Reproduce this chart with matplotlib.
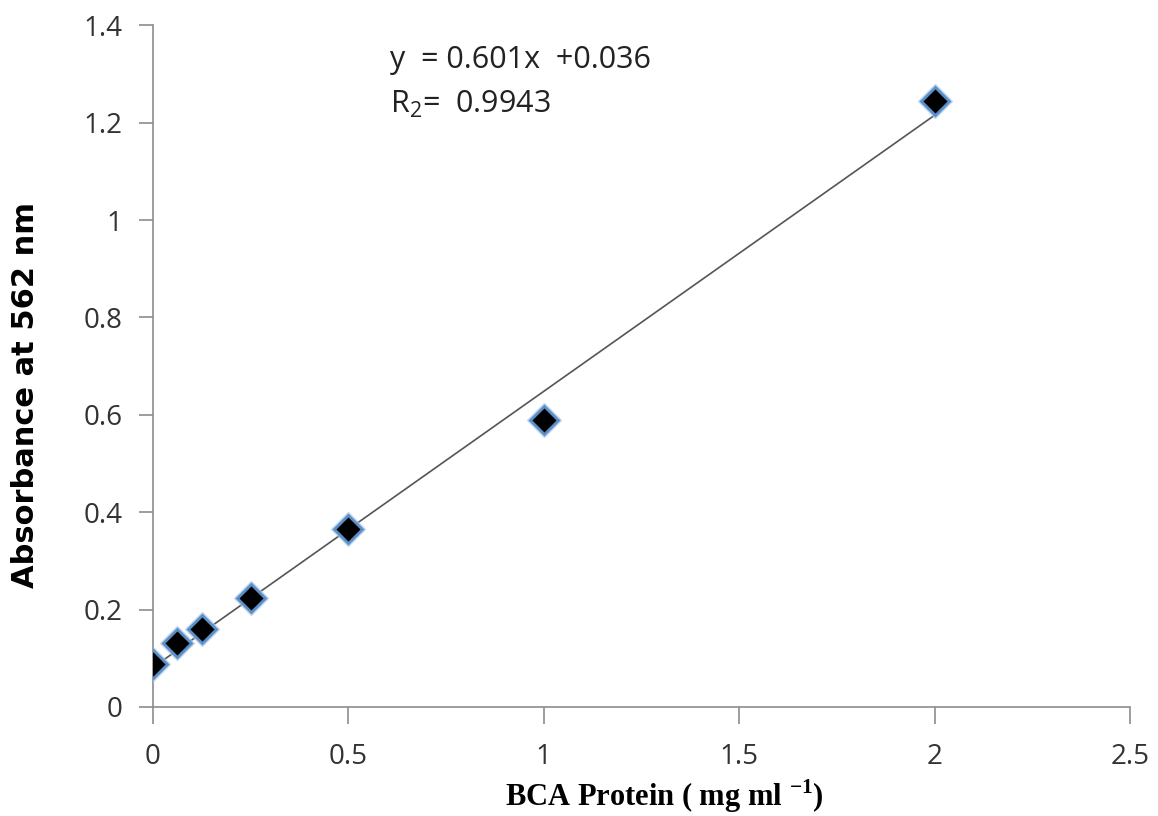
import numpy as np
import matplotlib
matplotlib.use("Agg")
import matplotlib.pyplot as plt

plt.rcParams["mathtext.fontset"] = "custom"
plt.rcParams["mathtext.rm"] = "Open Sans"
plt.rcParams["mathtext.bf"] = "Liberation Serif:bold"

protein = [0, 0.0625, 0.125, 0.25, 0.5, 1, 2]
absorbance = [0.088, 0.131, 0.160, 0.224, 0.365, 0.589, 1.244]
x_ticks = [0, 0.5, 1, 1.5, 2, 2.5]
x_tick_labels = ["0", "0.5", "1", "1.5", "2", "2.5"]
y_ticks = [0, 0.2, 0.4, 0.6, 0.8, 1, 1.2, 1.4]
y_tick_labels = ["0", "0.2", "0.4", "0.6", "0.8", "1", "1.2", "1.4"]

fig = plt.figure(figsize=(11.58, 8.16), dpi=100)
ax = fig.add_axes([0.132, 0.1336, 0.844, 0.8354])

slope, intercept = np.polyfit(protein, absorbance, 1)
xl = np.array([min(protein), max(protein)])
ax.plot(xl, slope * xl + intercept, color="#555555", lw=1.2, zorder=2)
ax.plot(protein, absorbance, linestyle="none", marker="D", ms=17,
        markerfacecolor="#a9c6e8", markeredgecolor="#a9c6e8", markeredgewidth=1, alpha=0.6, zorder=3)
ax.plot(protein, absorbance, linestyle="none", marker="D", ms=14,
        markerfacecolor="black", markeredgecolor="#5b8fc7", markeredgewidth=2, zorder=4)

ax.set_xlim(0, 2.5)
ax.set_ylim(0, 1.4)
ax.set_xticks(x_ticks)
ax.set_xticklabels(x_tick_labels)
ax.set_yticks(y_ticks)
ax.set_yticklabels(y_tick_labels)
for s in ["top", "right"]:
    ax.spines[s].set_visible(False)
for s in ["left", "bottom"]:
    ax.spines[s].set_color("#8c8c8c")
    ax.spines[s].set_linewidth(1.2)
ax.tick_params(direction="out", width=1.2, color="#8c8c8c",
               labelsize=20, labelcolor="#333333")
ax.tick_params(axis="y", length=10, pad=12)
ax.tick_params(axis="x", length=12, pad=14)
for lab in ax.get_xticklabels() + ax.get_yticklabels():
    lab.set_family("Open Sans")

ax.set_ylabel("Absorbance at 562 nm", fontsize=22, fontweight="bold", family="DejaVu Sans")
ax.yaxis.set_label_coords(-0.1157, 0.457)
ax.set_xlabel(r"BCA Protein ( mg ml $^{\mathbf{-1}}$)", fontsize=22, fontweight="bold",
              family="Liberation Serif")
ax.xaxis.set_label_coords(0.523, -0.104)

ax.text(0.606, 1.312, "y  = 0.601x  +0.036", fontsize=22, family="Open Sans",
        color="#222222", va="baseline")
ax.text(0.606, 1.22, r"R$_{\mathrm{2}}$=  0.9943", fontsize=22, family="Open Sans",
        color="#222222", va="baseline")

fig.savefig("out.png", dpi=100)
